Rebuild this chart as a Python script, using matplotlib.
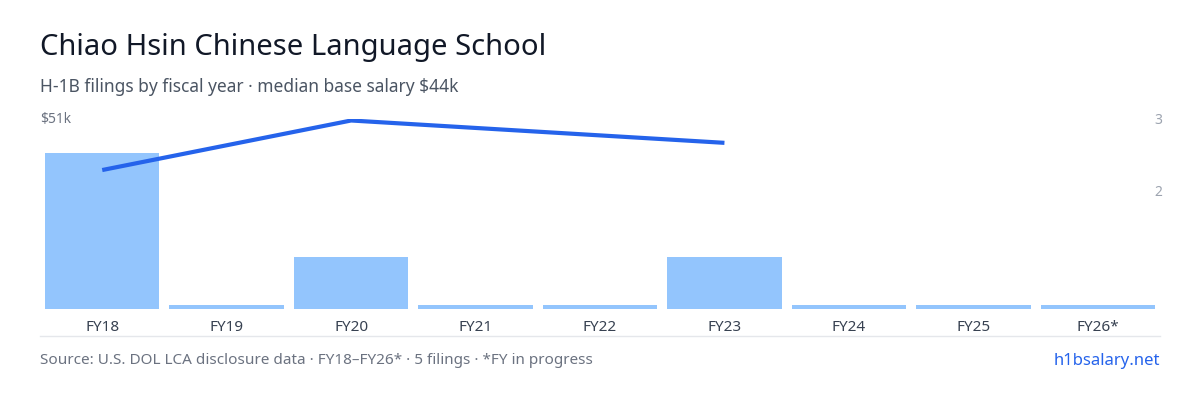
import matplotlib
matplotlib.use("Agg")
import matplotlib.pyplot as plt
from matplotlib.lines import Line2D

years = ["FY18","FY19","FY20","FY21","FY22","FY23","FY24","FY25","FY26*"]
filings = [3, 0, 1, 0, 0, 1, 0, 0, 0]
salary_years = ["FY18","FY20","FY23"]
salary_k = [37.3, 50.6, 44.6]

plt.rcParams['font.family'] = ['Noto Sans', 'DejaVu Sans']
fig = plt.figure(figsize=(12, 4), dpi=100)
ax = fig.add_axes([40/1200, 1-309/400, 1120/1200, 190/400])
x = list(range(len(years)))
stub = 0.07
heights = [v if v > 0 else stub for v in filings]
ax.bar(x, heights, width=0.92, color="#93c5fd", zorder=2)
ax.set_xlim(-0.5, len(years)-0.5)
ax.set_ylim(0, 3*190/156)
ax.set_yticks([])
ax.set_xticks(x)
ax.set_xticklabels(years, fontsize=11, color="#374151")
ax.tick_params(axis='x', length=0, pad=8)
for s in ax.spines.values():
    s.set_visible(False)

ax2 = ax.twinx()
ax2.set_ylim(0, 51)
xs = [years.index(y) for y in salary_years]
ax2.plot(xs, salary_k, color="#2563eb", lw=3, solid_capstyle='butt', zorder=3)
ax2.set_yticks([])
for s in ax2.spines.values():
    s.set_visible(False)

ax3 = ax.twinx()
ax3.set_ylim(-190/72+3, 3)
ax3.set_yticks([2, 3])
ax3.set_yticklabels(["2", "3"], fontsize=10, color="#9ca3af")
ax3.tick_params(axis='y', length=0, pad=-4)
for s in ax3.spines.values():
    s.set_visible(False)

fig.text(40/1200, 1-120/400, "$51k", fontsize=10, color="#6b7280", va='center')
fig.text(40/1200, 1-47/400, "Chiao Hsin Chinese Language School", fontsize=21, color="#111827", va='center')
fig.text(40/1200, 1-87/400, "H-1B filings by fiscal year · median base salary $44k", fontsize=12.5, color="#4b5563", va='center')
fig.add_artist(Line2D([40/1200, 1160/1200], [1-336/400]*2, color="#e5e7eb", lw=1))
fig.text(40/1200, 1-361/400, "Source: U.S. DOL LCA disclosure data · FY18–FY26* · 5 filings · *FY in progress", fontsize=11, color="#6b7280", va='center')
fig.text(1160/1200, 1-361/400, "h1bsalary.net", fontsize=12, color="#2563eb", va='center', ha='right')
fig.savefig("out.png", dpi=100)
